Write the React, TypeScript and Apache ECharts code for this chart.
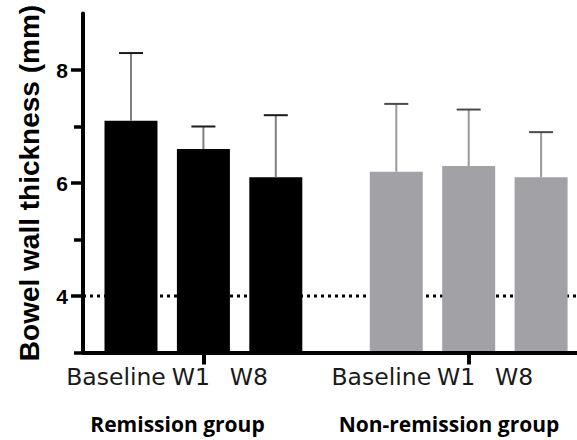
import React, { useEffect, useRef } from "react";
import * as echarts from "echarts";

// ---- data ----
const categories = ["Baseline", "W1", "W8"];
const groups = ["Remission group", "Non-remission group"];
const remissionMean = [7.1, 6.6, 6.1];
const remissionUpper = [8.3, 7.0, 7.2];
const nonRemissionMean = [6.2, 6.3, 6.1];
const nonRemissionUpper = [7.4, 7.3, 6.9];
const yMajorTicks = [4, 6, 8];
const yMinorTicks = [3, 5, 7];
const thresholdValue = 4;

// ---- layout ----
const groupStart = [1, 4.664];
const X_MIN = 0.337;
const X_MAX = 7.16;
const labelShift = [30, 25, 54]; // px of right padding to nudge label text left

export default function App() {
  const ref = useRef<HTMLDivElement>(null);

  useEffect(() => {
    document.body.style.margin = "0";
    if (!ref.current) return;
    const chart = echarts.init(ref.current, null, { renderer: "svg" });

    const xs0 = categories.map((_, i) => groupStart[0] + i);
    const xs1 = categories.map((_, i) => groupStart[1] + i);
    const allX = [...xs0, ...xs1];

    const rich: Record<string, any> = {};
    categories.forEach((_, i) => {
      rich["c" + i] = {
        fontFamily: "DejaVu Sans",
        fontSize: 23.5,
        color: "#1a1a1a",
        padding: [0, labelShift[i], 0, 0],
      };
    });

    const errRender = (stem: string, cap: string) => (params: any, api: any) => {
      const x = api.value(0);
      const m = api.value(1);
      const u = api.value(2);
      const p0 = api.coord([x, m]);
      const p1 = api.coord([x, u]);
      return {
        type: "group",
        children: [
          {
            type: "line",
            shape: { x1: p0[0], y1: p0[1], x2: p1[0], y2: p1[1] },
            style: { stroke: stem, lineWidth: 2 },
          },
          {
            type: "line",
            shape: { x1: p1[0] - 12, y1: p1[1], x2: p1[0] + 12, y2: p1[1] },
            style: { stroke: cap, lineWidth: 2 },
          },
        ],
      };
    };

    const groupLabel = (text: string, x: number) => ({
      type: "text",
      x,
      y: 424,
      style: {
        text,
        fontFamily: "Open Sans",
        fontWeight: "bold",
        fontSize: 21,
        fill: "#000",
        align: "center",
        verticalAlign: "middle",
      },
    });

    chart.setOption({
      animation: false,
      grid: {
        left: 83,
        right: 0,
        top: 13.5,
        bottom: 87.5,
        containLabel: false,
        outerBoundsMode: "none",
      },
      xAxis: {
        type: "value",
        min: X_MIN,
        max: X_MAX,
        z: 5,
        splitLine: { show: false },
        axisLine: { show: true, lineStyle: { color: "#000", width: 4 } },
        axisTick: {
          show: true,
          customValues: [groupStart[0] + 1, groupStart[1] + 1],
          length: 12,
          lineStyle: { color: "#000", width: 4 },
        },
        axisLabel: {
          show: true,
          customValues: allX,
          margin: 12,
          formatter: (v: number) => {
            let best = 0;
            let bd = Infinity;
            allX.forEach((x, i) => {
              const d = Math.abs(x - v);
              if (d < bd) {
                bd = d;
                best = i;
              }
            });
            const ci = best % 3;
            return "{c" + ci + "|" + categories[ci] + "}";
          },
          rich,
        },
      },
      yAxis: [
        {
          type: "value",
          min: 3,
          max: 9,
          interval: 1,
          position: "left",
          z: 5,
          splitLine: { show: false },
          axisLine: { show: true, lineStyle: { color: "#000", width: 4 } },
          axisTick: {
            show: true,
            customValues: yMajorTicks,
            length: 12,
            lineStyle: { color: "#000", width: 3.5 },
          },
          axisLabel: {
            customValues: yMajorTicks,
            fontFamily: "Liberation Sans",
            fontWeight: "bold",
            fontSize: 21,
            color: "#000",
            margin: 15,
          },
          name: "Bowel wall thickness (mm)",
          nameLocation: "middle",
          nameGap: 40,
          nameTextStyle: {
            fontFamily: "Liberation Sans",
            fontWeight: "bold",
            fontSize: 28,
            color: "#000",
          },
        },
        {
          type: "value",
          min: 3,
          max: 9,
          interval: 1,
          position: "left",
          z: 5,
          splitLine: { show: false },
          axisLine: { show: false },
          axisTick: {
            show: true,
            customValues: yMinorTicks,
            length: 9,
            lineStyle: { color: "#000", width: 3.5 },
          },
          axisLabel: { show: false },
        },
      ],
      series: [
        {
          type: "line",
          data: [
            [X_MIN, thresholdValue],
            [X_MAX, thresholdValue],
          ],
          symbol: "none",
          silent: true,
          z: 1,
          lineStyle: { color: "#000", width: 3, type: [3, 4] },
        },
        {
          type: "bar",
          name: groups[0],
          data: remissionMean.map((v, i) => [xs0[i], v]),
          barWidth: 53,
          barGap: "-100%",
          z: 2,
          itemStyle: { color: "#000" },
        },
        {
          type: "bar",
          name: groups[1],
          data: nonRemissionMean.map((v, i) => [xs1[i], v]),
          barWidth: 53,
          barGap: "-100%",
          z: 2,
          itemStyle: { color: "#a2a2a6" },
        },
        {
          type: "custom",
          z: 3,
          renderItem: errRender("#7f7f7f", "#1a1a1a"),
          encode: { x: 0, y: [1, 2] },
          data: remissionMean.map((v, i) => [xs0[i], v, remissionUpper[i]]),
        },
        {
          type: "custom",
          z: 3,
          renderItem: errRender("#9a9a9a", "#4a4a4a"),
          encode: { x: 0, y: [1, 2] },
          data: nonRemissionMean.map((v, i) => [xs1[i], v, nonRemissionUpper[i]]),
        },
      ],
      graphic: [groupLabel(groups[0], 177.5), groupLabel(groups[1], 449)],
    });

    return () => chart.dispose();
  }, []);

  return <div ref={ref} style={{ width: 577, height: 440 }} />;
}
